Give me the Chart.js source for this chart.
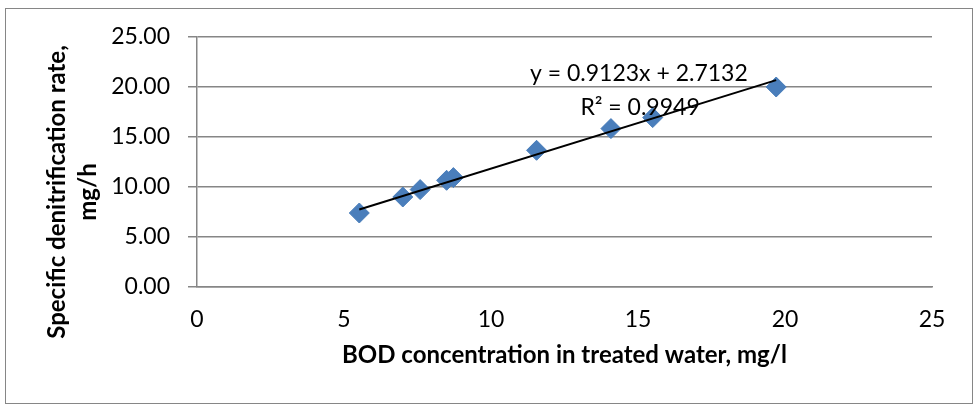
<!DOCTYPE html>
<html>
<head>
<meta charset="utf-8">
<script src="https://cdn.jsdelivr.net/npm/chart.js@4.4.1/dist/chart.umd.min.js"></script>
<style>
  html, body { margin: 0; padding: 0; background: #fff; }
  #wrap { width: 974px; height: 408px; }
</style>
</head>
<body>
<div id="wrap"><canvas id="chart" width="974" height="408"></canvas></div>
<script>
// data
const bod = [5.52, 7.0, 7.59, 8.49, 8.72, 11.55, 14.08, 15.5, 19.7];
const rate = [7.4, 9.0, 9.74, 10.67, 10.94, 13.67, 15.84, 16.94, 20.0];
const xTicks = [0, 5, 10, 15, 20, 25];
const yTicks = [0, 5, 10, 15, 20, 25];
const slope = 0.9123;
const intercept = 2.7132;
const eqText = 'y = 0.9123x + 2.7132';
const r2Text = 'R² = 0.9949';
const xTitle = 'BOD concentration in treated water, mg/l';
const yTitle = ['Specific denitrification rate,', 'mg/h'];

const FONT = 'Lato, "Open Sans", sans-serif';
const GRID = '#868686';

document.addEventListener("DOMContentLoaded", function () {
  const points = bod.map((x, i) => ({ x: x, y: rate[i] }));
  const xMin = Math.min(...bod);
  const xMax = Math.max(...bod);
  const trend = [
    { x: xMin, y: slope * xMin + intercept },
    { x: xMax, y: slope * xMax + intercept }
  ];

  // frame, y axis title and trendline label
  const extras = {
    id: 'extras',
    beforeDraw(chart) {
      const ctx = chart.ctx;
      ctx.save();
      ctx.fillStyle = '#fff';
      ctx.fillRect(0, 0, chart.width, chart.height);
      ctx.strokeStyle = GRID;
      ctx.lineWidth = 1;
      ctx.strokeRect(5.5, 8.5, 967, 395);
      ctx.restore();
    },
    afterDraw(chart) {
      const ctx = chart.ctx;
      const xs = chart.scales.x, ys = chart.scales.y;
      ctx.save();
      ctx.fillStyle = '#000';
      ctx.textAlign = 'center';
      ctx.textBaseline = 'middle';
      ctx.font = '23px ' + FONT;
      ctx.fillText(eqText, xs.getPixelForValue(15.03), ys.getPixelForValue(21.37));
      ctx.fillText(r2Text, xs.getPixelForValue(15.07), ys.getPixelForValue(17.97));
      ctx.font = 'bold 24px ' + FONT;
      ctx.translate(57, 192);
      ctx.rotate(-Math.PI / 2);
      ctx.fillText(yTitle[0], 0, 0);
      ctx.fillText(yTitle[1], 0, 31);
      ctx.restore();
    }
  };

  const config = {
    type: 'scatter',
    data: {
      datasets: [{
        type: 'line',
        label: 'Linear',
        data: trend,
        borderColor: '#000',
        borderWidth: 2,
        pointRadius: 0,
        fill: false,
        order: 0
      }, {
        label: 'Rate',
        data: points,
        pointStyle: 'rectRot',
        pointRadius: 10,
        backgroundColor: '#4a7ebb',
        borderColor: '#4a7ebb',
        borderWidth: 1,
        order: 1
      }]
    },
    options: {
      responsive: false,
      animation: false,
      layout: { padding: { left: 0, right: 42, top: 37, bottom: 0 } },
      plugins: {
        legend: { display: false },
        tooltip: { enabled: false }
      },
      scales: {
        x: {
          type: 'linear',
          min: 0,
          max: 25,
          afterBuildTicks: (s) => { s.ticks = xTicks.map(v => ({ value: v })); },
          afterFit: (s) => { s.height = 121; },
          grid: { display: false, drawTicks: false },
          border: { display: true, color: GRID, width: 1.5 },
          ticks: { padding: 19, color: '#000', font: { family: FONT, size: 23 } },
          title: {
            display: true,
            text: xTitle,
            color: '#000',
            font: { family: FONT, size: 24, weight: 'bold' },
            padding: { top: 0, bottom: 38 }
          }
        },
        y: {
          type: 'linear',
          min: 0,
          max: 25,
          afterBuildTicks: (s) => { s.ticks = yTicks.map(v => ({ value: v })); },
          afterFit: (s) => { s.width = 197; },
          grid: { color: GRID, lineWidth: 1.5, drawTicks: true, tickLength: 9, tickColor: GRID },
          border: { display: true, color: GRID, width: 1.5 },
          ticks: {
            padding: 18,
            color: '#000',
            font: { family: FONT, size: 23 },
            callback: (v) => Number(v).toFixed(2)
          }
        }
      }
    },
    plugins: [extras]
  };

  new Chart(document.getElementById('chart').getContext('2d'), config);
});
</script>
</body>
</html>
